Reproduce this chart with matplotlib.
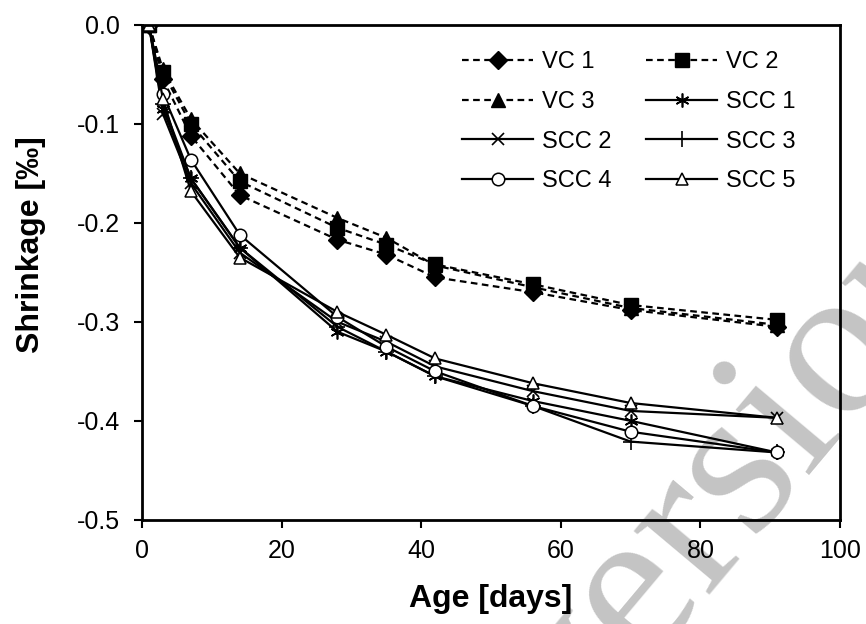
import matplotlib
matplotlib.use("Agg")
import matplotlib.pyplot as plt

plt.rcParams['font.family'] = ['Liberation Sans', 'DejaVu Sans']

ages = [1, 3, 7, 14, 28, 35, 42, 56, 70, 91]

vc1 = [0.0, -0.055, -0.112, -0.172, -0.217, -0.232, -0.255, -0.270, -0.288, -0.305]
vc2 = [0.0, -0.048, -0.100, -0.158, -0.205, -0.222, -0.242, -0.262, -0.283, -0.298]
vc3 = [0.0, -0.045, -0.095, -0.150, -0.195, -0.215, -0.243, -0.265, -0.286, -0.303]

scc1 = [0.0, -0.085, -0.155, -0.225, -0.310, -0.330, -0.355, -0.380, -0.400, -0.432]
scc2 = [0.0, -0.090, -0.160, -0.230, -0.300, -0.320, -0.345, -0.370, -0.390, -0.397]
scc3 = [0.0, -0.080, -0.155, -0.225, -0.305, -0.330, -0.355, -0.385, -0.421, -0.432]
scc4 = [0.0, -0.070, -0.136, -0.212, -0.295, -0.325, -0.350, -0.385, -0.411, -0.432]
scc5 = [0.0, -0.075, -0.168, -0.235, -0.290, -0.313, -0.337, -0.362, -0.382, -0.397]

labels = ["VC 1", "VC 2", "VC 3", "SCC 1", "SCC 2", "SCC 3", "SCC 4", "SCC 5"]
xticks = [0, 20, 40, 60, 80, 100]
yticks = [0.0, -0.1, -0.2, -0.3, -0.4, -0.5]

fig = plt.figure(figsize=(8.66, 6.24), dpi=100)
ax = fig.add_axes([0.164, 0.167, 0.806, 0.793])
ax.patch.set_alpha(0)

dash = (0, (3.0, 2.0))
lw = 1.6
h = []
h += ax.plot(ages, vc1, color='black', lw=lw, ls=dash, marker='D', ms=9, label=labels[0])
h += ax.plot(ages, vc2, color='black', lw=lw, ls=dash, marker='s', ms=10, label=labels[1])
h += ax.plot(ages, vc3, color='black', lw=lw, ls=dash, marker='^', ms=10, label=labels[2])
h += ax.plot(ages, scc1, color='black', lw=lw, marker=(6, 2, 0), ms=10, mew=1.2, label=labels[3])
h += ax.plot(ages, scc2, color='black', lw=lw, marker='x', ms=8, mew=1.2, label=labels[4])
h += ax.plot(ages, scc3, color='black', lw=lw, marker='+', ms=11, mew=1.2, label=labels[5])
h += ax.plot(ages, scc4, color='black', lw=lw, marker='o', ms=9, mfc='white', mew=1.1, label=labels[6])
h += ax.plot(ages, scc5, color='black', lw=lw, marker='^', ms=9, mfc='white', mew=1.1, label=labels[7])

ax.set_xlim(0, 100)
ax.set_ylim(-0.5, 0.0)
ax.set_xticks(xticks)
ax.set_yticks(yticks)
ax.set_xticklabels([str(t) for t in xticks])
ax.set_yticklabels([f"{t:.1f}" if t != 0 else "0.0" for t in yticks])
ax.tick_params(direction='out', length=6, width=1.5, labelsize=18)
ax.tick_params(axis='y', pad=10)
ax.tick_params(axis='x', pad=8)
for s in ax.spines.values():
    s.set_linewidth(2.0)

ax.set_xlabel("Age [days]", fontsize=23, fontweight='bold', labelpad=15)
ax.set_ylabel("Shrinkage [‰]", fontsize=23, fontweight='bold')
ax.yaxis.set_label_coords(-0.138, 0.556)

# row-major order for legend with 2 columns
order = [0, 2, 4, 6, 1, 3, 5, 7]
ax.legend([h[i] for i in order], [labels[i] for i in order], ncol=2,
          loc='upper left', frameon=False, fontsize=17,
          handlelength=3.0, columnspacing=1.5, labelspacing=0.75,
          bbox_to_anchor=(0.459, 0.947), borderaxespad=0, borderpad=0,
          handletextpad=0.35)

fig.text(0.856, 0.236, "version", fontsize=155, color='#c4c4c4', rotation=50,
         family='Liberation Serif', ha='center', va='center', zorder=-1)

fig.savefig("out.png", dpi=100)
